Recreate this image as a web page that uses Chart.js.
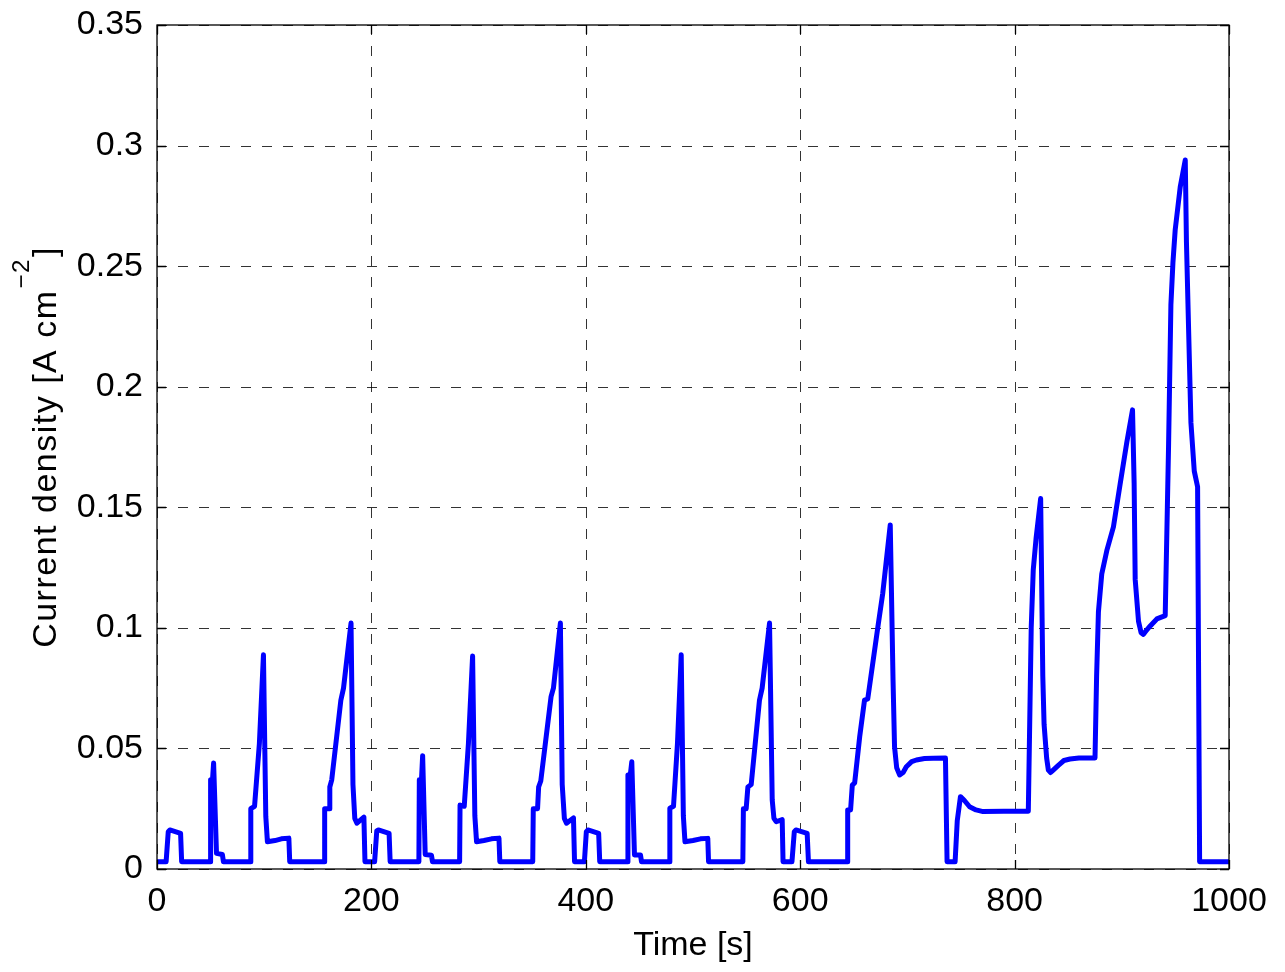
<!DOCTYPE html>
<html>
<head>
<meta charset="utf-8">
<script src="https://cdn.jsdelivr.net/npm/chart.js@4.4.1/dist/chart.umd.min.js"></script>
<style>
  html, body { margin: 0; padding: 0; background: #fff; }
  #wrap { width: 1285px; height: 972px; }
</style>
</head>
<body>
<div id="wrap"><canvas id="currentChart"></canvas></div>
<script>
// time [s] and current density [A cm^-2]
var timeS = [
    0, 8.5, 10.5, 12, 22, 23, 49.5, 50, 51.5, 52.8, 55.5, 61, 62,
    87, 87.5, 91, 95.5, 99.3, 101.5, 103, 110, 116, 123, 123.8,
    156, 156.4, 160.5, 161.2, 163, 171.5, 174, 181, 182.8, 184.5, 186.5, 193, 194,
    203, 205, 206.5, 216.5, 217.5, 244.3, 244.7, 246.5, 247.8, 250.2, 256, 257,
    282.3, 282.7, 286.6, 290.5, 294.4, 296.5, 298.1, 305, 312, 319, 319.8,
    350.5, 351, 355, 356, 358, 367.6, 369.8, 376.3, 378, 380, 382, 388.5, 389.5,
    398.7, 400.5, 402, 412, 413, 439, 439.3, 441, 442.9, 445.4, 451, 452,
    478, 478.4, 481.8, 485.5, 489, 491, 492.5, 500, 507, 513.8, 514.5,
    546.5, 547, 549.6, 551.2, 554.3, 562, 564.5, 571.4, 573.9, 575.5, 577.6, 583.2, 584,
    592.3, 594.5, 596, 606.5, 607.7, 644, 644.3, 647, 648.6, 650.8, 655.5, 660, 663,
    672.5, 677, 684, 686.6, 688, 690, 692.8, 696, 699, 704, 708.4, 716, 724, 735.5, 737,
    744.5, 746.5, 749.5, 753, 758, 764, 770.6, 790, 812.8,
    815.5, 817.4, 820, 824.3, 826.3, 827.5, 829.9, 831.5, 833.6, 836, 840.8, 846, 851.7, 860, 875,
    876.5, 878.2, 881.3, 886, 892.2, 898.4, 904.7, 910, 911.5, 912.5, 915.6, 918, 920.2, 923,
    926.5, 932.7, 940.5, 942.5, 943.6, 945.8, 947.7, 949.8, 954.5, 959.2, 960.3, 962.3,
    964.5, 967.6, 970.7, 972.6, 1000
];
var currentDensity = [
    0.003, 0.003, 0.0155, 0.0162, 0.0148, 0.003, 0.003, 0.037, 0.035, 0.044, 0.0065, 0.006, 0.003,
    0.003, 0.025, 0.026, 0.052, 0.0888, 0.0217, 0.0113, 0.0118, 0.0125, 0.0128, 0.003,
    0.003, 0.025, 0.025, 0.034, 0.037, 0.070, 0.075, 0.102, 0.035, 0.021, 0.019, 0.0215, 0.003,
    0.003, 0.0158, 0.0162, 0.0148, 0.003, 0.003, 0.037, 0.035, 0.047, 0.006, 0.0057, 0.003,
    0.003, 0.0265, 0.026, 0.052, 0.0883, 0.022, 0.0113, 0.0118, 0.0125, 0.0128, 0.003,
    0.003, 0.025, 0.025, 0.034, 0.0365, 0.0715, 0.075, 0.102, 0.035, 0.021, 0.019, 0.0212, 0.003,
    0.003, 0.0155, 0.0162, 0.0148, 0.003, 0.003, 0.039, 0.037, 0.0445, 0.0058, 0.0058, 0.003,
    0.003, 0.0252, 0.026, 0.052, 0.0888, 0.022, 0.0113, 0.0118, 0.0125, 0.0127, 0.003,
    0.003, 0.025, 0.025, 0.034, 0.035, 0.070, 0.075, 0.102, 0.0286, 0.021, 0.0196, 0.0205, 0.003,
    0.003, 0.0155, 0.0162, 0.0148, 0.003, 0.003, 0.0245, 0.0245, 0.0348, 0.0357, 0.0549, 0.070, 0.0705,
    0.1005, 0.1143, 0.1427, 0.0784, 0.0507, 0.042, 0.039, 0.040, 0.0424, 0.0445, 0.0452, 0.0458, 0.0459, 0.046, 0.003,
    0.003, 0.020, 0.030, 0.0285, 0.0258, 0.0245, 0.0238, 0.024, 0.024,
    0.100, 0.124, 0.137, 0.1536, 0.080, 0.060, 0.046, 0.041, 0.040, 0.041, 0.043, 0.045, 0.0456, 0.046, 0.046,
    0.080, 0.1067, 0.1223, 0.132, 0.1419, 0.1595, 0.177, 0.1904, 0.160, 0.120, 0.1027, 0.098, 0.0973, 0.099,
    0.1008, 0.1037, 0.1051, 0.150, 0.175, 0.2339, 0.2515, 0.265, 0.2828, 0.294, 0.260, 0.224,
    0.185, 0.165, 0.1585, 0.003, 0.003
];
var xTicks = [0, 200, 400, 600, 800, 1000];
var yTicks = [0, 0.05, 0.1, 0.15, 0.2, 0.25, 0.3, 0.35];
var xTitle = 'Time [s]';
var yTitle = 'Current density [A cm';
var yTitleSup = '\u22122';
var yTitleEnd = ']';

var FONT = '"Liberation Sans", Arial, Helvetica, sans-serif';
var FONT_SIZE = 34;

var points = timeS.map(function (t, i) { return { x: t, y: currentDensity[i] }; });

// MATLAB-style axes: dashed grid, boxed frame, inward ticks, titles
var matlabAxes = {
    id: 'matlabAxes',
    beforeDatasetsDraw: function (chart) {
        var ctx = chart.ctx, a = chart.chartArea;
        var xs = chart.scales.x, ys = chart.scales.y;
        ctx.save();
        ctx.strokeStyle = 'rgba(0,0,0,0.8)';
        ctx.lineWidth = 1;
        ctx.setLineDash([10, 11]);
        xTicks.forEach(function (v) {
            var px = Math.round(xs.getPixelForValue(v)) + 0.5;
            ctx.beginPath(); ctx.moveTo(px, a.top); ctx.lineTo(px, a.bottom); ctx.stroke();
        });
        yTicks.forEach(function (v) {
            var py = Math.round(ys.getPixelForValue(v)) + 0.5;
            ctx.beginPath(); ctx.moveTo(a.left, py); ctx.lineTo(a.right, py); ctx.stroke();
        });
        ctx.restore();
    },
    afterDatasetsDraw: function (chart) {
        var ctx = chart.ctx, a = chart.chartArea;
        var xs = chart.scales.x, ys = chart.scales.y;
        var tl = 9;
        ctx.save();
        ctx.strokeStyle = '#000';
        ctx.lineWidth = 1.3;
        ctx.setLineDash([]);
        ctx.strokeRect(a.left, a.top, a.right - a.left, a.bottom - a.top);
        ctx.beginPath();
        xTicks.forEach(function (v) {
            var px = Math.round(xs.getPixelForValue(v)) + 0.5;
            ctx.moveTo(px, a.bottom); ctx.lineTo(px, a.bottom - tl);
            ctx.moveTo(px, a.top); ctx.lineTo(px, a.top + tl);
        });
        yTicks.forEach(function (v) {
            var py = Math.round(ys.getPixelForValue(v)) + 0.5;
            ctx.moveTo(a.left, py); ctx.lineTo(a.left + tl, py);
            ctx.moveTo(a.right, py); ctx.lineTo(a.right - tl, py);
        });
        ctx.stroke();
        ctx.restore();
    },
    afterDraw: function (chart) {
        var ctx = chart.ctx, a = chart.chartArea;
        ctx.save();
        ctx.fillStyle = '#000';
        ctx.textBaseline = 'alphabetic';

        // x title
        ctx.font = FONT_SIZE + 'px ' + FONT;
        ctx.textAlign = 'center';
        ctx.fillText(xTitle, (a.left + a.right) / 2, 955);

        // y title with superscript
        ctx.textAlign = 'left';
        if ('letterSpacing' in ctx) ctx.letterSpacing = '1.5px';
        var supFont = Math.round(FONT_SIZE * 0.7) + 'px ' + FONT;
        ctx.font = FONT_SIZE + 'px ' + FONT;
        var wMain = ctx.measureText(yTitle).width;
        var wEnd = ctx.measureText(yTitleEnd).width;
        ctx.font = supFont;
        var wSup = ctx.measureText(yTitleSup).width;
        var total = wMain + wSup + wEnd + 2;
        ctx.translate(56, (a.top + a.bottom) / 2);
        ctx.rotate(-Math.PI / 2);
        var x0 = -total / 2;
        ctx.font = FONT_SIZE + 'px ' + FONT;
        ctx.fillText(yTitle, x0, 0);
        ctx.font = supFont;
        ctx.fillText(yTitleSup, x0 + wMain + 1, -27);
        ctx.font = FONT_SIZE + 'px ' + FONT;
        ctx.fillText(yTitleEnd, x0 + wMain + wSup + 2, 0);
        ctx.restore();
    }
};

new Chart(document.getElementById('currentChart'), {
    type: 'line',
    data: {
        datasets: [{
            data: points,
            borderColor: '#0000ff',
            backgroundColor: '#0000ff',
            borderWidth: 5,
            pointRadius: 0,
            tension: 0,
            fill: false,
            borderJoinStyle: 'round',
            borderCapStyle: 'round'
        }]
    },
    options: {
        responsive: true,
        maintainAspectRatio: false,
        animation: false,
        layout: { padding: { left: 0, right: 56, top: 25, bottom: 0 } },
        plugins: { legend: { display: false }, tooltip: { enabled: false } },
        scales: {
            x: {
                type: 'linear',
                min: 0,
                max: 1000,
                afterBuildTicks: function (scale) { scale.ticks = xTicks.map(function (v) { return { value: v }; }); },
                afterFit: function (scale) { scale.height = 103; },
                grid: { display: false, drawTicks: false },
                border: { display: false },
                ticks: {
                    color: '#000',
                    padding: 12,
                    maxRotation: 0,
                    font: { family: FONT, size: FONT_SIZE },
                    callback: function (v) { return String(v); }
                }
            },
            y: {
                type: 'linear',
                min: 0,
                max: 0.35,
                afterBuildTicks: function (scale) { scale.ticks = yTicks.map(function (v) { return { value: v }; }); },
                afterFit: function (scale) {
                    scale.width = 157;
                    scale.paddingTop = 0;
                    scale.paddingBottom = 0;
                },
                grid: { display: false, drawTicks: false },
                border: { display: false },
                ticks: {
                    color: '#000',
                    padding: 14,
                    font: { family: FONT, size: FONT_SIZE },
                    callback: function (v) { return String(v); }
                }
            }
        }
    },
    plugins: [matlabAxes]
});
</script>
</body>
</html>
